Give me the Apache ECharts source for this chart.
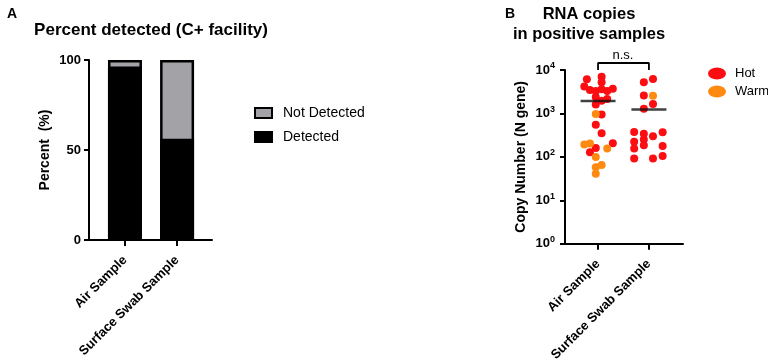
<!DOCTYPE html>
<html>
<head>
<meta charset="utf-8">
<script src="https://cdn.jsdelivr.net/npm/echarts@6/dist/echarts.min.js"></script>
<style>
  html, body { margin: 0; padding: 0; background: #fff; }
  #chart { width: 768px; height: 364px; }
</style>
</head>
<body>
<div id="chart"></div>
<script>
// panel A : percent detected
var sampleTypes = ['Air Sample', 'Surface Swab Sample'];
var detected = [96.4, 56.3];
var notDetected = [3.6, 43.7];
var percentTicks = [0, 50, 100];

// panel B : copy numbers, [jitter, copies]
var airHot = [[-0.22, 6100], [0.07, 7000], [0.07, 5200], [-0.27, 4150], [-0.16, 3450],
    [-0.045, 3300], [0.07, 3600], [0.18, 3300], [0.29, 3700], [-0.045, 2400],
    [0.07, 1950], [0.18, 2150], [-0.045, 1600], [0.07, 940], [-0.045, 550],
    [0.07, 350], [0.29, 205], [-0.045, 160], [-0.16, 128]];
var airWarm = [[-0.045, 970], [-0.27, 193], [-0.16, 204], [0.18, 156], [-0.045, 99],
    [0.07, 65], [-0.045, 58], [-0.045, 41]];
var surfHot = [[-0.10, 5200], [0.08, 6200], [-0.10, 2600], [0.08, 1650], [-0.10, 1280],
    [-0.29, 375], [-0.10, 340], [0.27, 370], [0.08, 300], [-0.29, 222], [-0.10, 250],
    [0.27, 177], [-0.29, 156], [-0.10, 186], [-0.29, 92], [0.08, 92], [0.27, 105]];
var surfWarm = [[0.08, 2550]];
var logTicks = [1, 10, 100, 1000, 10000];
var bracket = [[0, 10000], [0, 14500], [1, 14500], [1, 10000]];

var FONT = 'Liberation Sans, Arial, sans-serif';
var RED = '#fb0d12', ORANGE = '#ff8a12';

function place(group, pts) {
    return pts.map(function (p) { return [group + p[0], p[1]]; });
}
function mean(list) {
    var s = 0;
    list.forEach(function (p) { s += p[1]; });
    return s / list.length;
}
var meanAir = mean(airHot.concat(airWarm));
var meanSurf = mean(surfHot.concat(surfWarm));
// grey bar is drawn to the full height, the black part goes over it
var totals = detected.map(function (v, i) { return Math.round((v + notDetected[i]) * 10) / 10; });

// onZero off, otherwise the y axis sits on x = 0 (first group)
var axisLine = { show: true, onZero: false, lineStyle: { color: '#000', width: 2 } };
var axisTick = { show: true, length: 5, lineStyle: { color: '#000', width: 2 } };
var catLabel = {
    rotate: 45, margin: 18, color: '#000', fontFamily: FONT, fontWeight: 'bold', fontSize: 13,
    customValues: [0, 1],
    formatter: function (v) { return sampleTypes[Math.round(v)]; }
};
function titleText(size, weight) {
    return { fontSize: size, fontWeight: weight, color: '#000', fontFamily: FONT };
}
var ellipse = 'path://M0,6a9,6 0 1,0 18,0a9,6 0 1,0 -18,0z';

var chart = echarts.init(document.getElementById('chart'));
chart.setOption({
    animation: false,
    textStyle: { fontFamily: FONT },
    title: [
        { text: 'A', left: 7, top: 7, padding: 0, textStyle: titleText(14, 'bold') },
        { text: 'Percent detected (C+ facility)', left: 151, top: 22, padding: 0, textAlign: 'center',
          textStyle: titleText(17, 'bold') },
        { text: 'B', left: 505, top: 7, padding: 0, textStyle: titleText(14, 'bold') },
        { text: 'RNA copies\nin positive samples', left: 589, top: 4, padding: 0, textAlign: 'center',
          textStyle: Object.assign(titleText(16.5, 'bold'), { lineHeight: 20, align: 'center' }) },
        { text: 'n.s.', left: 623, top: 49, padding: 0, textAlign: 'center',
          textStyle: titleText(13, 'normal') }
    ],
    legend: [
        { data: ['Not Detected', 'Detected'], orient: 'vertical', left: 254, top: 106, padding: 0,
          icon: 'rect', itemWidth: 17, itemHeight: 10, itemGap: 10,
          textStyle: { fontSize: 14, color: '#000', fontFamily: FONT, padding: [0, 0, 0, 6] } },
        { data: ['Hot', 'Warm'], orient: 'vertical', left: 708, top: 67, padding: 0,
          icon: ellipse, itemWidth: 18, itemHeight: 12, itemGap: 5,
          textStyle: { fontSize: 13, color: '#000', fontFamily: FONT, padding: [0, 0, 0, 4] } }
    ],
    grid: [
        { left: 89, top: 60, width: 123, height: 180 },
        { left: 565, top: 70, width: 118, height: 175 }
    ],
    xAxis: [
        { gridIndex: 0, type: 'value', min: -0.69, max: 1.67, splitLine: { show: false },
          axisLine: axisLine, axisTick: Object.assign({ customValues: [0, 1] }, axisTick, { length: 6 }), axisLabel: catLabel },
        { gridIndex: 1, type: 'value', min: -0.65, max: 1.67, splitLine: { show: false },
          axisLine: axisLine, axisTick: Object.assign({ customValues: [0, 1] }, axisTick, { length: 6 }), axisLabel: catLabel }
    ],
    yAxis: [
        { gridIndex: 0, type: 'value', min: 0, max: 100, interval: 50, splitLine: { show: false },
          axisLine: axisLine, axisTick: axisTick,
          axisLabel: { margin: 8, color: '#000', fontWeight: 'bold', fontSize: 13, fontFamily: FONT, customValues: percentTicks },
          name: 'Percent  (%)', nameLocation: 'middle', nameGap: 37,
          nameTextStyle: titleText(14, 'bold') },
        { gridIndex: 1, type: 'log', logBase: 10, min: 1, max: 10000, splitNumber: 4, splitLine: { show: false },
          axisLine: axisLine, axisTick: axisTick, minorTick: { show: false },
          axisLabel: {
              margin: 10, color: '#000', fontFamily: FONT, customValues: logTicks,
              formatter: function (v) { return '{b|10}{s|' + Math.round(Math.log10(v)) + '}'; },
              rich: {
                  b: titleText(13, 'bold'),
                  s: Object.assign(titleText(9, 'bold'), { padding: [0, 0, 8, 0] })
              }
          },
          name: 'Copy Number (N gene)', nameLocation: 'middle', nameGap: 37,
          nameTextStyle: titleText(14, 'bold') }
    ],
    series: [
        { name: 'Not Detected', type: 'bar', xAxisIndex: 0, yAxisIndex: 0, barWidth: 34, barGap: '-100%',
          data: totals.map(function (v, i) { return [i, v]; }),
          itemStyle: { color: '#a3a3a7', borderColor: '#000', borderWidth: 2.5 } },
        { name: 'Detected', type: 'bar', xAxisIndex: 0, yAxisIndex: 0, barWidth: 34, barGap: '-100%',
          data: detected.map(function (v, i) { return [i, v]; }),
          itemStyle: { color: '#000', borderColor: '#000', borderWidth: 2.5 } },
        { name: 'Hot', type: 'scatter', xAxisIndex: 1, yAxisIndex: 1, symbolSize: 8,
          data: place(0, airHot).concat(place(1, surfHot)), itemStyle: { color: RED, opacity: 1 } },
        { name: 'Warm', type: 'scatter', xAxisIndex: 1, yAxisIndex: 1, symbolSize: 8,
          data: place(0, airWarm).concat(place(1, surfWarm)), itemStyle: { color: ORANGE, opacity: 1 } },
        { name: 'mean', type: 'scatter', xAxisIndex: 1, yAxisIndex: 1, symbol: 'rect', symbolSize: [35, 2.5], z: 5,
          data: [[0, meanAir], [1, meanSurf]], itemStyle: { color: '#111' } },
        { name: 'bracket', type: 'line', xAxisIndex: 1, yAxisIndex: 1, clip: false, symbol: 'none',
          data: bracket, lineStyle: { color: '#000', width: 1.8 } }
    ]
});
</script>
</body>
</html>
